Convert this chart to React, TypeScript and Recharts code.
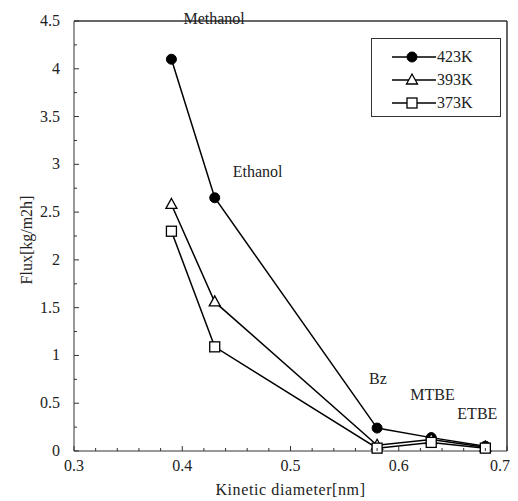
import {
  LineChart,
  Line,
  XAxis,
  YAxis,
  Legend,
  Label,
  LabelList,
} from "recharts";

const diameters = [0.39, 0.43, 0.58, 0.63, 0.68];
const compounds = ["Methanol", "Ethanol", "Bz", "MTBE", "ETBE"];
const flux423 = [4.1, 2.65, 0.24, 0.14, 0.05];
const flux393 = [2.58, 1.56, 0.06, 0.12, 0.04];
const flux373 = [2.3, 1.09, 0.03, 0.09, 0.03];
const xTicks = [0.3, 0.32, 0.34, 0.36, 0.38, 0.4, 0.42, 0.44, 0.46, 0.48, 0.5, 0.52, 0.54, 0.56, 0.58, 0.6, 0.62, 0.64, 0.66, 0.68, 0.7];
const yTicks = [0, 0.25, 0.5, 0.75, 1, 1.25, 1.5, 1.75, 2, 2.25, 2.5, 2.75, 3, 3.25, 3.5, 3.75, 4, 4.25, 4.5];

// label offsets next to the 423K points (px)
const labelShift = [
  [12, -40],
  [18, -26],
  [-8, -49],
  [-21, -43],
  [-28, -32],
];

const data = diameters.map((d, i) => ({
  d,
  name: compounds[i],
  k423: flux423[i],
  k393: flux393[i],
  k373: flux373[i],
}));

const FONT = "'Liberation Serif', 'Times New Roman', serif";
const txt = { fontFamily: FONT, fontSize: 16, fill: "#222" };

const Marker = ({ kind, cx, cy }: { kind: string; cx: number; cy: number }) => {
  if (kind === "circle")
    return <circle cx={cx} cy={cy} r={5} fill="#000" stroke="#000" />;
  if (kind === "triangle")
    return (
      <path
        d={`M${cx},${cy - 6}L${cx + 5.5},${cy + 4}L${cx - 5.5},${cy + 4}Z`}
        fill="#fff"
        stroke="#000"
        strokeWidth={1.3}
      />
    );
  return (
    <rect x={cx - 5} y={cy - 5} width={10} height={10} fill="#fff" stroke="#000" strokeWidth={1.3} />
  );
};

const series = [
  { key: "k423", label: "423K", marker: "circle" },
  { key: "k393", label: "393K", marker: "triangle" },
  { key: "k373", label: "373K", marker: "square" },
];

const XTick = (props: any) => {
  const { x, y, payload } = props;
  const v = payload.value;
  const major = Math.abs(v * 10 - Math.round(v * 10)) < 1e-6;
  const last = v >= 0.7 - 1e-9;
  return (
    <g>
      <line x1={x} y1={y} x2={x} y2={y - (major ? 5 : 3)} stroke="#333" />
      {major && (
        <text x={last ? x + 3 : x} y={y + 20} textAnchor={last ? "end" : "middle"} style={txt}>
          {v.toFixed(1)}
        </text>
      )}
    </g>
  );
};

const YTick = (props: any) => {
  const { x, y, payload } = props;
  const v = payload.value;
  const major = Math.abs(v * 2 - Math.round(v * 2)) < 1e-6;
  return (
    <g>
      <line x1={x} y1={y} x2={x + (major ? 5 : 3)} y2={y} stroke="#333" />
      {major && (
        <text x={x - 14} y={y + 5} textAnchor="end" style={txt}>
          {String(v)}
        </text>
      )}
    </g>
  );
};

const LegendBox = () => (
  <div
    style={{
      width: 130,
      height: 79,
      border: "1px solid #333",
      background: "#fff",
      boxSizing: "border-box",
    }}
  >
    <svg width={130} height={79} style={{ display: "block" }}>
      {series.map((s, i) => {
        const y = 18 + i * 23;
        return (
          <g key={s.key}>
            <line x1={20} y1={y} x2={64} y2={y} stroke="#000" strokeWidth={1.3} />
            <Marker kind={s.marker} cx={40} cy={y} />
            <text x={65} y={y + 5} style={txt}>
              {s.label}
            </text>
          </g>
        );
      })}
    </svg>
  </div>
);

const CompoundLabel = (props: any) => {
  const { x, y, index, value } = props;
  const [dx, dy] = labelShift[index];
  return (
    <text x={x + dx} y={y + dy + 5} style={txt}>
      {value}
    </text>
  );
};

const YTitle = (props: any) => {
  const { viewBox } = props;
  const cx = viewBox.x + 12;
  const cy = viewBox.y + viewBox.height / 2 + 4;
  return (
    <text
      x={cx}
      y={cy}
      transform={`rotate(-90 ${cx} ${cy})`}
      textAnchor="middle"
      dominantBaseline="central"
      style={txt}
    >
      Flux[kg/m2h]
    </text>
  );
};

const App = () => {
  return (
    <div style={{ background: "#fff", width: 510, height: 493 }}>
      <LineChart
        width={510}
        height={493}
        data={data}
        margin={{ top: 12, right: 10, bottom: 20, left: 6 }}
      >
        <XAxis
          dataKey="d"
          type="number"
          domain={[0.3, 0.7]}
          ticks={xTicks}
          interval={0}
          height={30}
          tickLine={false}
          tickSize={0}
          tickMargin={0}
          tick={<XTick />}
          axisLine={{ stroke: "#333" }}
        >
          <Label
            value="Kinetic diameter[nm]"
            position="bottom"
            offset={3}
            style={{ ...txt, letterSpacing: 0.6 }}
          />
        </XAxis>
        {/* top edge of the frame */}
        <XAxis
          xAxisId="top"
          orientation="top"
          dataKey="d"
          type="number"
          domain={[0.3, 0.7]}
          height={1}
          tick={false}
          tickLine={false}
          axisLine={{ stroke: "#333", strokeWidth: 1.5 }}
        />
        <YAxis
          type="number"
          domain={[0, 4.5]}
          ticks={yTicks}
          interval={0}
          width={60}
          tickLine={false}
          tickSize={0}
          tickMargin={0}
          tick={<YTick />}
          axisLine={{ stroke: "#333" }}
        >
          <Label content={<YTitle />} />
        </YAxis>
        {/* right edge of the frame */}
        <YAxis
          yAxisId="right"
          orientation="right"
          type="number"
          domain={[0, 4.5]}
          width={1}
          tick={false}
          tickLine={false}
          axisLine={{ stroke: "#333", strokeWidth: 1.5 }}
        />
        <Legend
          layout="horizontal"
          verticalAlign="middle"
          align="center"
          content={<LegendBox />}
          wrapperStyle={{ position: "absolute", top: 30, left: 363, width: 132 }}
        />
        {series.map((s) => (
          <Line
            key={s.key}
            dataKey={s.key}
            name={s.label}
            stroke="#000"
            strokeWidth={1.5}
            isAnimationActive={false}
            dot={(p: any) => <Marker key={`${s.key}-${p.index}`} kind={s.marker} cx={p.cx} cy={p.cy} />}
            activeDot={false}
          >
            {s.key === "k423" && <LabelList dataKey="name" content={<CompoundLabel />} />}
          </Line>
        ))}
      </LineChart>
    </div>
  );
};

export default App;
